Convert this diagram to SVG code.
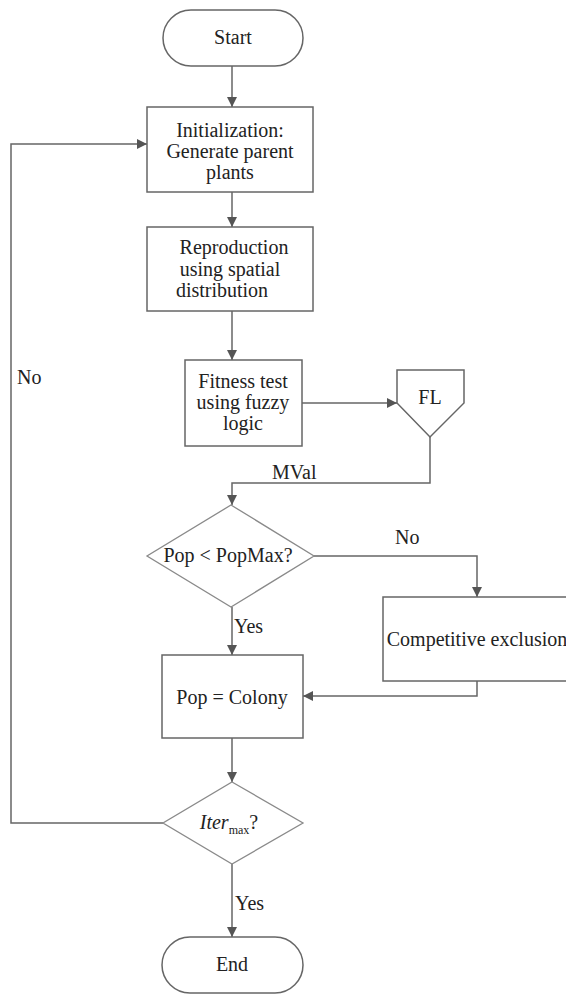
<svg xmlns="http://www.w3.org/2000/svg" width="566" height="994" viewBox="0 0 566 994">
<defs>
<marker id="ah" viewBox="0 0 10 10" refX="10" refY="5" markerWidth="10" markerHeight="10" markerUnits="userSpaceOnUse" orient="auto">
<path d="M0,0 L10,5 L0,10 Z" fill="#555"/>
</marker>
<style>
.n{fill:#fff;stroke:#666;stroke-width:1.5}
.d{fill:#fff;stroke:#8a8a8a;stroke-width:1.3}
.t{font-size:20px;fill:#222;text-anchor:middle}
.l{font-size:20px;fill:#222}
.c{fill:none;stroke:#666;stroke-width:1.5}
</style>
</defs>
<rect width="566" height="994" fill="#fff"/>
<g font-family="'Liberation Serif', Tinos, 'DejaVu Serif', serif">
<g id="connectors">
<path class="c" d="M232,66 L232,107" marker-end="url(#ah)"/>
<path class="c" d="M232,192 L232,227" marker-end="url(#ah)"/>
<path class="c" d="M232,311 L232,360" marker-end="url(#ah)"/>
<path class="c" d="M302,403 L397,403" marker-end="url(#ah)"/>
<path class="c" d="M430,437 L430,483 L232,483 L232,505" marker-end="url(#ah)"/>
<path class="c" d="M314,556 L477,556 L477,597" marker-end="url(#ah)"/>
<path class="c" d="M232,607 L232,655" marker-end="url(#ah)"/>
<path class="c" d="M477,681 L477,696 L303,696" marker-end="url(#ah)"/>
<path class="c" d="M232,738 L232,782" marker-end="url(#ah)"/>
<path class="c" d="M163,823 L11,823 L11,144 L147,144" marker-end="url(#ah)"/>
<path class="c" d="M232,864 L232,937" marker-end="url(#ah)"/>
<text class="l" x="272" y="479">MVal</text>
<text class="l" x="395" y="544">No</text>
<text class="l" x="234" y="633">Yes</text>
<text class="l" x="17" y="384">No</text>
<text class="l" x="235" y="910">Yes</text>
</g>
<g id="start">
<rect class="n" x="163" y="10" width="140" height="56" rx="28"/>
<text class="t" x="233" y="44">Start</text>
</g>
<g id="init">
<rect class="n" x="147" y="107" width="166" height="85"/>
<text class="t" x="230" y="137">Initialization:</text>
<text class="t" x="230" y="158">Generate parent</text>
<text class="t" x="230" y="179">plants</text>
</g>
<g id="reproduction">
<rect class="n" x="147" y="227" width="166" height="84"/>
<text class="t" x="234" y="254">Reproduction</text>
<text class="t" x="230" y="276">using spatial</text>
<text class="t" x="222" y="297">distribution</text>
</g>
<g id="fitness">
<rect class="n" x="185" y="360" width="117" height="86"/>
<text class="t" x="243" y="388">Fitness test</text>
<text class="t" x="243" y="409">using fuzzy</text>
<text class="t" x="243" y="430">logic</text>
</g>
<g id="fl">
<path class="n" d="M397,370 L464,370 L464,403 L430,437 L397,403 Z"/>
<text class="t" x="430" y="404">FL</text>
</g>
<g id="popcheck">
<path class="d" d="M231,505 L314,556 L231,607 L147,556 Z"/>
<text class="t" x="228" y="562">Pop &lt; PopMax?</text>
</g>
<g id="competitive">
<rect class="n" x="383" y="597" width="190" height="84"/>
<text class="t" x="477" y="646">Competitive exclusion</text>
</g>
<g id="colony">
<rect class="n" x="162" y="655" width="141" height="83"/>
<text class="t" x="232" y="704">Pop = Colony</text>
</g>
<g id="iter">
<path class="d" d="M232,782 L303,823 L232,864 L163,823 Z"/>
<text class="t" x="229" y="829" font-style="italic">Iter<tspan font-size="12" font-style="normal" dy="5">max</tspan><tspan dy="-5" font-style="normal">?</tspan></text>
</g>
<g id="end">
<rect class="n" x="162" y="937" width="141" height="56" rx="28"/>
<text class="t" x="232" y="971">End</text>
</g>
</g>
</svg>
